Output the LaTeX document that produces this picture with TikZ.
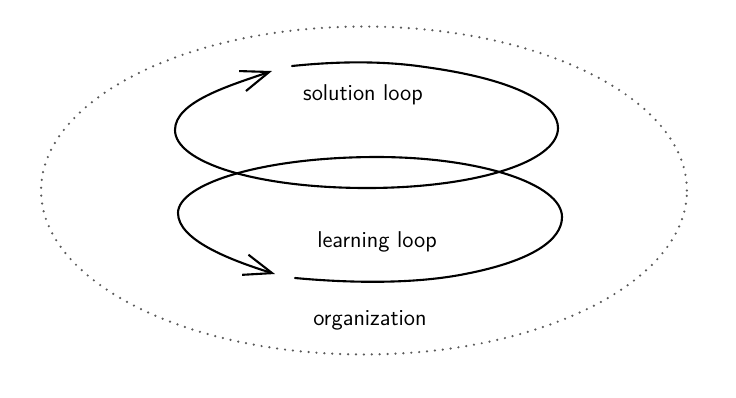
\documentclass[tikz,border=0pt]{standalone}
\usepackage{xcolor}
\usepackage{tikz}
\usetikzlibrary{arrows.meta, positioning}
\definecolor{dotgray}{RGB}{90,90,90}

\begin{document}
\begin{tikzpicture}[
    x=0.02cm, y=-0.02cm,
    loopline/.style={line width=1.2pt, line cap=round, line join=round},
    looparrow/.style={loopline, -{Straight Barb[length=16pt, width=12pt, line width=1.2pt]}},
    border/.style={dotgray, line width=1.4pt, line cap=round, dash pattern=on 0pt off 4.5pt},
    label/.style={font=\sffamily\fontsize{13}{15}\selectfont, align=center}
]
\useasboundingbox (0,0) rectangle (736,397);

% Organization
\draw[border] (364,190.5) ellipse [x radius=6.46cm, y radius=3.28cm];
\node[label] (org) at (370,320) {organization};

% Solution loop
\coordinate (solstart) at (292,66);
\coordinate (soltip) at (272,71);
\draw[looparrow] (solstart) .. controls (340,61) and (385,61) .. (425,67)
    .. controls (520,80) and (558,105) .. (558,128)
    .. controls (558,162) and (475,188) .. (367,188)
    .. controls (255,188) and (175,162) .. (175,130)
    .. controls (175,102) and (228,86) .. (soltip);
\node[label] (sol) at (363,95) {solution loop};

% Learning loop
\coordinate (learnstart) at (295,278);
\coordinate (learntip) at (275,274);
\draw[looparrow] (learnstart) .. controls (360,284) and (420,283) .. (465,274)
    .. controls (532,261) and (562,240) .. (562,217)
    .. controls (562,184) and (480,157) .. (377,157)
    .. controls (262,157) and (178,184) .. (178,213)
    .. controls (178,240) and (230,260) .. (learntip);
\node[label] (learn) at (377,242) {learning loop};

\end{tikzpicture}
\end{document}
